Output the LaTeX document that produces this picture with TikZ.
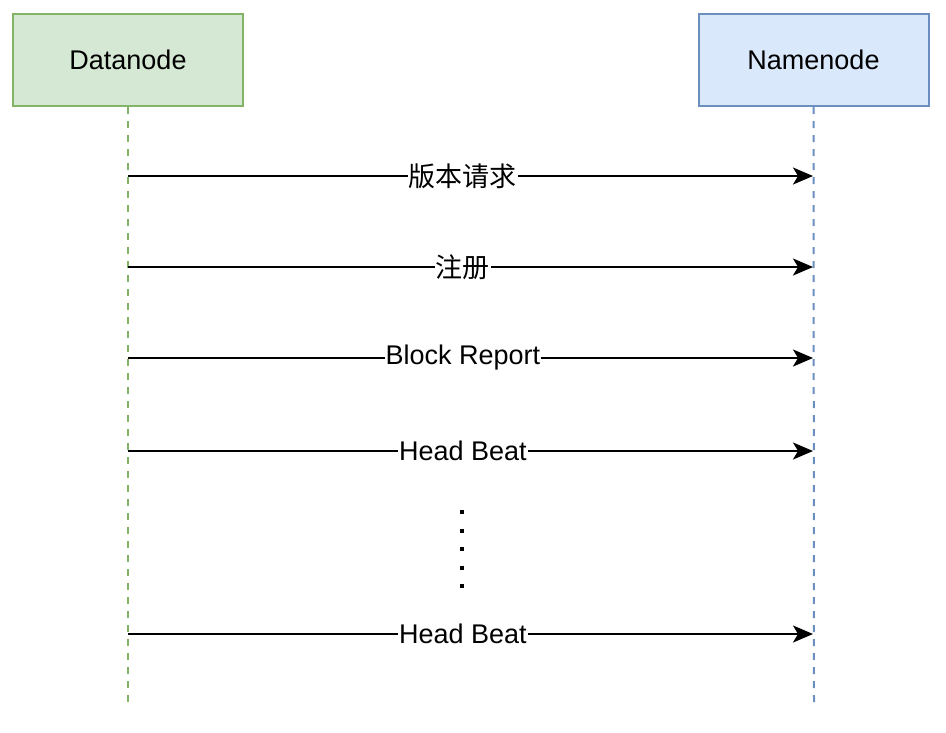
\documentclass[tikz,border=0pt]{standalone}
\usepackage{fontspec}
\setmainfont{Liberation Sans}
\newfontfamily\cjk{Noto Sans CJK SC}
\usetikzlibrary{arrows.meta}
\definecolor{gfill}{HTML}{D5E8D4}
\definecolor{gline}{HTML}{82B366}
\definecolor{bfill}{HTML}{DAE8FC}
\definecolor{bline}{HTML}{6C8EBF}
\tikzset{
  actor/.style={draw, line width=2pt, minimum width=230pt, minimum height=92pt, inner sep=0pt, font=\fontsize{27}{32}\selectfont},
  lifeline/.style={line width=2pt, dash pattern=on 7pt off 7pt},
  msg/.style={line width=2pt, -{Stealth[length=20pt,width=17pt,inset=5pt]}},
  lbl/.style={fill=white, inner sep=1pt, font=\fontsize{27}{32}\selectfont, pos=0.489},
}
\begin{document}
\begin{tikzpicture}[x=1pt,y=-1pt]
\useasboundingbox (0,0) rectangle (946,732);
\node[actor, fill=gfill, draw=gline] (dn) at (128,60) {Datanode};
\node[actor, fill=bfill, draw=bline] (nn) at (813.5,60) {Namenode};
\coordinate (dend) at (128,705);
\coordinate (nend) at (814,705);
\draw[lifeline, gline] (dn.south) -- (dend);
\draw[lifeline, bline] (nn.south) -- (nend);
\foreach \i/\y in {1/176,2/267,3/358,4/451,5/634}{
  \coordinate (d\i) at (128,\y);
  \coordinate (n\i) at (813,\y);
}
\draw[msg] (d1) -- node[lbl] (l1) {\cjk 版本请求} (n1);
\draw[msg] (d2) -- node[lbl] (l2) {\cjk 注册} (n2);
\draw[msg] (d3) -- node[lbl] (l3) {Block Report} (n3);
\draw[msg] (d4) -- node[lbl] (l4) {Head Beat} (n4);
\draw[msg] (d5) -- node[lbl] (l5) {Head Beat} (n5);
\coordinate (dt) at (462,510);
\coordinate (db) at (462,590);
\draw[line width=4pt, dash pattern=on 4pt off 14.5pt] (dt) -- (db);
\end{tikzpicture}
\end{document}
